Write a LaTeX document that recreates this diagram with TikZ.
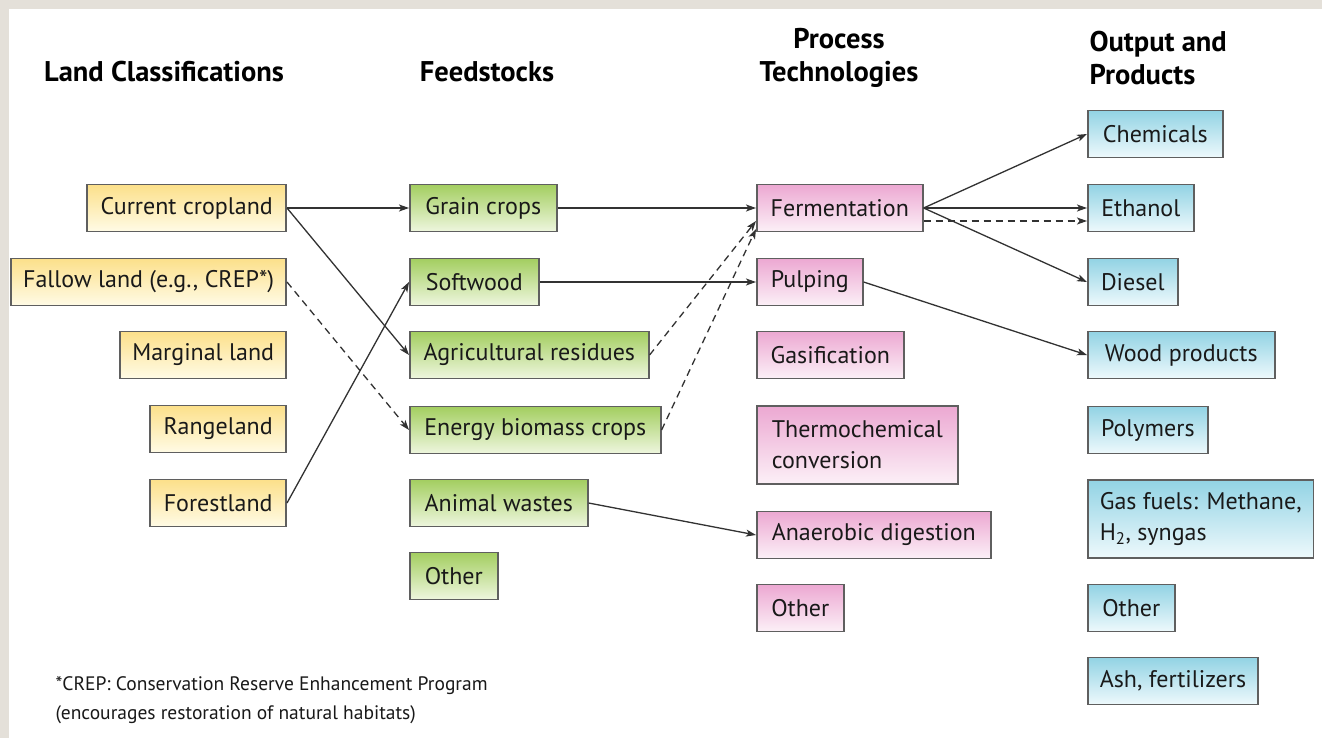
\documentclass[tikz,border=0pt]{standalone}
\usepackage{fontspec}
\setmainfont{PT Sans}
\usetikzlibrary{arrows.meta}
\definecolor{frameBeige}{RGB}{228,224,217}
\definecolor{boxGray}{RGB}{95,95,95}
\definecolor{arrowGray}{RGB}{50,50,50}
\definecolor{landTop}{RGB}{252,224,138}
\definecolor{landBot}{RGB}{255,251,230}
\definecolor{feedTop}{RGB}{163,206,96}
\definecolor{feedBot}{RGB}{238,246,222}
\definecolor{procTop}{RGB}{236,168,210}
\definecolor{procBot}{RGB}{252,240,247}
\definecolor{prodTop}{RGB}{146,211,228}
\definecolor{prodBot}{RGB}{238,249,252}
\newcommand{\boxfont}{\fontsize{24}{31}\selectfont}
\newcommand{\headfont}{\fontsize{28.5}{33}\selectfont\bfseries}
\tikzset{
  box/.style={draw=boxGray, line width=1.6pt, minimum height=47pt, inner xsep=12pt, align=left, font=\boxfont, text=black!90},
  land/.style={box, top color=landTop, bottom color=landBot},
  feed/.style={box, top color=feedTop, bottom color=feedBot},
  proc/.style={box, top color=procTop, bottom color=procBot},
  prod/.style={box, top color=prodTop, bottom color=prodBot},
  head/.style={align=center, font=\headfont},
  note/.style={align=left, font=\fontsize{19.5}{29}\selectfont, text=black!90},
  arrow/.style={-{Stealth[length=10pt,width=7pt,inset=2.5pt]}, line width=1.3pt, draw=arrowGray},
  darrow/.style={arrow, dash pattern=on 7pt off 5pt}
}

\begin{document}
\begin{tikzpicture}[x=1pt,y=-1pt]
  \useasboundingbox (0,0) rectangle (1322,738);
  \fill[frameBeige] (0,0) rectangle (1322,738);
  \fill[white] (9,9) rectangle (1322,738);

  % column heads
  \node[head] (hland) at (164,72) {Land Classifications};
  \node[head] (hfeed) at (487,72) {Feedstocks};
  \node[head] (hproc) at (839,58) {Process\\Technologies};
  \node[head, align=left, anchor=west] (hprod) at (1086,58) {Output and\\Products};

  % land classifications
  \node[land, minimum width=199pt, anchor=east] (cur) at (287,208) {Current cropland};
  \node[land, minimum width=266pt, anchor=east] (fallow) at (287,282) {Fallow land (e.g., CREP*)};
  \node[land, minimum width=166pt, anchor=east] (marg) at (287,355) {Marginal land};
  \node[land, minimum width=136pt, anchor=east] (range) at (287,429) {Rangeland};
  \node[land, minimum width=136pt, anchor=east] (forest) at (287,503) {Forestland};

  % feedstocks
  \node[feed, minimum width=147pt, anchor=west] (grain) at (409,208) {Grain crops};
  \node[feed, minimum width=129pt, anchor=west] (soft) at (409,282) {Softwood};
  \node[feed, minimum width=239pt, anchor=west] (agres) at (409,355) {Agricultural residues};
  \node[feed, minimum width=251pt, anchor=west] (energy) at (409,430) {Energy biomass crops};
  \node[feed, minimum width=178pt, anchor=west] (animal) at (409,503) {Animal wastes};
  \node[feed, minimum width=88pt, anchor=west] (fother) at (409,576) {Other};

  % process technologies
  \node[proc, minimum width=166pt, anchor=west] (ferm) at (756,208) {Fermentation};
  \node[proc, minimum width=106pt, anchor=west] (pulp) at (756,282) {Pulping};
  \node[proc, minimum width=147pt, anchor=west] (gasif) at (756,355) {Gasification};
  \node[proc, minimum width=201pt, minimum height=78pt, anchor=west] (thermo) at (756,445) {Thermochemical\\conversion};
  \node[proc, minimum width=234pt, anchor=west] (anaer) at (756,535) {Anaerobic digestion};
  \node[proc, minimum width=87pt, anchor=west] (pother) at (756,608) {Other};

  % output and products
  \node[prod, minimum width=135pt, anchor=west] (chem) at (1087,134) {Chemicals};
  \node[prod, minimum width=106pt, anchor=west] (eth) at (1087,208) {Ethanol};
  \node[prod, minimum width=90pt, anchor=west] (diesel) at (1087,282) {Diesel};
  \node[prod, minimum width=187pt, anchor=west] (wood) at (1087,355) {Wood products};
  \node[prod, minimum width=120pt, anchor=west] (poly) at (1087,430) {Polymers};
  \node[prod, minimum width=224pt, minimum height=78pt, anchor=west] (gas) at (1087,519) {Gas fuels: Methane,\\H\textsubscript{2}, syngas};
  \node[prod, minimum width=87pt, anchor=west] (oother) at (1087,608) {Other};
  \node[prod, minimum width=170pt, anchor=west] (ash) at (1087,681) {Ash, fertilizers};

  % footnote
  \node[note, anchor=west] (crep) at (52,700) {*CREP: Conservation Reserve Enhancement Program\\(encourages restoration of natural habitats)};

  % land -> feedstocks
  \draw[arrow] (cur.east) -- (grain.west);
  \draw[arrow] (cur.east) -- (agres.west);
  \draw[darrow] (fallow.east) -- (energy.west);
  \draw[arrow] (forest.east) -- (soft.west);

  % feedstocks -> process
  \draw[arrow] (grain.east) -- (ferm.west);
  \draw[arrow] (soft.east) -- (pulp.west);
  \draw[darrow] (agres.east) -- ([yshift=-13pt]ferm.west);
  \draw[darrow] (energy.east) -- ([yshift=-21pt]ferm.west);
  \draw[arrow] (animal.east) -- (anaer.west);

  % process -> products
  \draw[arrow] (ferm.east) -- (chem.west);
  \draw[arrow] (ferm.east) -- (eth.west);
  \draw[darrow] ([yshift=-13pt]ferm.east) -- ([yshift=-13pt]eth.west);
  \draw[arrow] (ferm.east) -- (diesel.west);
  \draw[arrow] (pulp.east) -- (wood.west);
\end{tikzpicture}
\end{document}
